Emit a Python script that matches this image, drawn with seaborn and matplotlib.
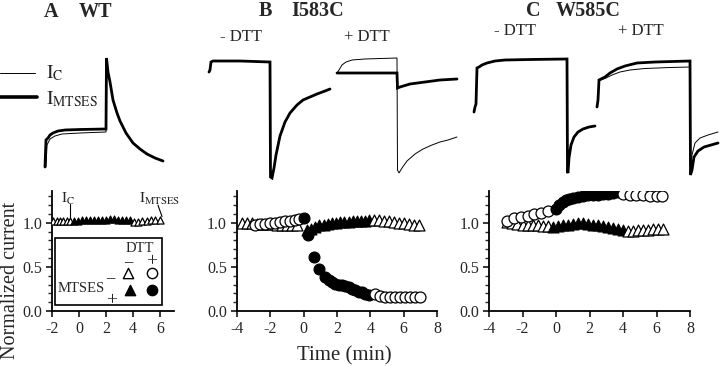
import matplotlib
matplotlib.use("Agg")
import matplotlib.pyplot as plt
import seaborn as sns
from matplotlib.patches import Rectangle

# ---------------- current traces (arbitrary units: time, current) ----------------
a_mtses_t = [45, 46, 48, 50, 53, 58, 65, 80, 106, 106.5, 108, 110, 113, 117, 120, 126, 133, 140, 147, 155, 163]
a_mtses_i = [13, 40, 42, 45, 47, 49, 50, 50.5, 51, 122, 108, 98, 80, 67, 59, 47, 37, 31, 26, 22, 19]
a_ctrl_t = [46, 47, 50, 55, 62, 80, 106, 106.5, 108, 110, 113, 117, 120, 126, 133, 140, 147, 155, 163]
a_ctrl_i = [13, 35, 41, 44, 46, 47, 48, 122, 108, 98, 80, 67, 59, 47, 37, 31, 26, 22, 19]

b_minus_t = [14, 15, 16, 18, 45, 75, 75.5, 77, 79, 81, 85, 90, 95, 102, 108, 115, 122, 130, 135]
b_minus_i = [108, 110, 118, 119, 119, 118, 3, 2, 12, 25, 44, 58, 67, 75, 80, 83, 86, 89, 91]
b_plus_ctrl_t = [142, 144, 147, 151, 157, 170, 202, 202.5, 204, 207, 212, 220, 228, 237, 245, 253, 262]
b_plus_ctrl_i = [107, 110, 115, 118, 120, 121, 122, 10, 7, 12, 19, 26, 31, 35, 38, 40, 43]
b_plus_mtses_t = [142, 202, 202.5, 205, 215, 230, 245, 262]
b_plus_mtses_i = [107, 107, 92, 93, 96, 98, 100, 101]

c_minus_t = [9, 10, 11, 12, 14, 17, 22, 30, 40, 65, 102, 102.5, 103, 104, 106, 109, 113, 118, 124, 130]
c_minus_i = [68, 73, 76, 112, 113, 115, 117, 119, 120, 120.5, 121, 8, 7, 22, 35, 43, 48, 51, 53, 54]
c_plus_mtses_t = [132, 133, 134, 136, 140, 145, 152, 160, 172, 190, 225, 225.5, 227, 229, 233, 239, 246, 253]
c_plus_mtses_i = [73, 80, 100, 101, 103, 107, 111, 114, 117, 118, 119, 5, 10, 23, 29, 33, 35, 37]
c_plus_ctrl_t = [134, 136, 141, 147, 155, 165, 180, 205, 225, 225.5, 227, 230, 235, 243, 253]
c_plus_ctrl_i = [100, 100, 102, 105, 108, 110, 111.5, 112.5, 113, 10, 25, 37, 42, 45, 48]

# ---------------- normalized current vs time (min) ----------------
# panel A, WT
a_tri_open1_x = [-1.9, -1.65, -1.4, -1.15, -0.9, -0.65]
a_tri_open1_y = [1.02, 1.02, 1.02, 1.02, 1.02, 1.02]
a_tri_fill_x = [-0.4, -0.1, 0.2, 0.5, 0.8, 1.1, 1.4, 1.7, 2.0, 2.3, 2.6, 2.9, 3.2, 3.5, 3.8]
a_tri_fill_y = [1.02, 1.02, 1.03, 1.03, 1.03, 1.03, 1.03, 1.03, 1.03, 1.04, 1.04, 1.03, 1.03, 1.03, 1.03]
a_tri_open2_x = [4.1, 4.4, 4.7, 5.0, 5.3, 5.6, 6.0]
a_tri_open2_y = [1.01, 1.01, 1.02, 1.02, 1.03, 1.03, 1.03]

# panel B, I583C
b_tri_open1_x = [-3.7, -3.4, -3.1, -2.8, -2.5, -2.2, -1.9, -1.6, -1.3, -1.0, -0.7, -0.4]
b_tri_open1_y = [1.0, 1.0, 1.0, 0.99, 0.99, 0.99, 0.99, 0.98, 0.98, 0.98, 0.97, 0.97]
b_tri_fill_x = [0.2, 0.45, 0.7, 0.95, 1.2, 1.45, 1.7, 1.95, 2.2, 2.45, 2.7, 2.95, 3.2, 3.45, 3.7, 3.95]
b_tri_fill_y = [0.92, 0.93, 0.95, 0.97, 0.98, 0.99, 1.0, 1.0, 1.01, 1.01, 1.01, 1.02, 1.02, 1.02, 1.02, 1.03]
b_tri_open2_x = [4.2, 4.5, 4.8, 5.1, 5.4, 5.7, 6.0, 6.3, 6.6, 6.9]
b_tri_open2_y = [1.03, 1.03, 1.02, 1.02, 1.01, 1.0, 1.0, 0.99, 0.98, 0.97]
b_cir_open1_x = [-2.9, -2.6, -2.3, -2.0, -1.7, -1.4, -1.1, -0.8, -0.5, -0.25]
b_cir_open1_y = [0.98, 0.99, 0.99, 1.0, 1.0, 1.01, 1.02, 1.02, 1.03, 1.04]
b_cir_fill_x = [0.0, 0.25, 0.65, 0.95, 1.3, 1.5, 1.7, 1.9, 2.1, 2.3, 2.5, 2.7, 2.9, 3.1, 3.3, 3.5, 3.7, 3.9]
b_cir_fill_y = [1.05, 0.86, 0.61, 0.48, 0.38, 0.35, 0.33, 0.31, 0.30, 0.29, 0.28, 0.27, 0.25, 0.24, 0.22, 0.21, 0.19, 0.18]
b_cir_open2_x = [4.3, 4.6, 4.9, 5.2, 5.5, 5.8, 6.1, 6.4, 6.7, 7.0]
b_cir_open2_y = [0.19, 0.17, 0.16, 0.16, 0.16, 0.16, 0.16, 0.16, 0.16, 0.16]

# panel C, W585C
c_tri_open1_x = [-2.9, -2.6, -2.3, -2.0, -1.7, -1.4, -1.1, -0.8, -0.5]
c_tri_open1_y = [1.01, 1.0, 0.99, 0.98, 0.98, 0.97, 0.97, 0.96, 0.96]
c_tri_fill_x = [-0.2, 0.1, 0.4, 0.7, 1.0, 1.3, 1.6, 1.9, 2.2, 2.5, 2.8, 3.1, 3.4, 3.7, 4.0]
c_tri_fill_y = [0.95, 0.96, 0.97, 0.98, 0.99, 1.0, 1.0, 0.99, 0.98, 0.97, 0.96, 0.95, 0.94, 0.93, 0.92]
c_tri_open2_x = [4.3, 4.6, 4.9, 5.2, 5.5, 5.8, 6.1, 6.4]
c_tri_open2_y = [0.91, 0.91, 0.92, 0.92, 0.92, 0.93, 0.93, 0.93]
c_cir_open1_x = [-2.9, -2.5, -2.1, -1.7, -1.3, -0.9, -0.5]
c_cir_open1_y = [1.02, 1.05, 1.07, 1.08, 1.10, 1.11, 1.13]
c_cir_fill_x = [0.0, 0.2, 0.4, 0.6, 0.8, 1.0, 1.3, 1.6, 1.9, 2.2, 2.5, 2.8, 3.1, 3.4, 3.7]
c_cir_fill_y = [1.16, 1.20, 1.24, 1.26, 1.27, 1.28, 1.29, 1.30, 1.31, 1.32, 1.32, 1.33, 1.33, 1.34, 1.35]
c_cir_open2_x = [4.0, 4.4, 4.8, 5.2, 5.6, 6.0, 6.3]
c_cir_open2_y = [1.33, 1.32, 1.31, 1.31, 1.30, 1.30, 1.30]

yticks = [0.0, 0.5, 1.0]
ytick_labels = ["0.0", "0.5", "1.0"]

sns.set_style("ticks")
plt.rcParams["font.family"] = ["Liberation Serif", "DejaVu Serif"]
plt.rcParams["mathtext.fontset"] = "stix"

W, H = 720, 366
fig = plt.figure(figsize=(7.2, 3.66), dpi=100)


def px_axes(x0, y0, x1, y1):
    # rectangle given in pixel coords (top-left origin)
    return fig.add_axes([x0 / W, 1 - y1 / H, (x1 - x0) / W, (y1 - y0) / H])


def trace(ax, t, i, lw):
    sns.lineplot(x=t, y=i, ax=ax, sort=False, estimator=None, color="black",
                 linewidth=lw, solid_joinstyle="miter")


THICK, THIN = 2.0, 0.7

# ----- top traces ------------------------------------------------------------
ta = px_axes(0, 50, 180, 180)
tb = px_axes(195, 50, 465, 180)
tc = px_axes(465, 50, 720, 180)
for ax, w in ((ta, 180), (tb, 270), (tc, 255)):
    ax.set_xlim(0, w)
    ax.set_ylim(0, 130)
    ax.axis("off")

trace(ta, a_ctrl_t, a_ctrl_i, THIN)
trace(ta, a_mtses_t, a_mtses_i, THICK)
ta.plot([0, 35], [107, 107], color="black", lw=THIN)
ta.plot([0, 37], [83, 83], color="black", lw=THICK * 1.3)
ta.text(46, 107, r"$\mathrm{I}_{\mathrm{C}}$", fontsize=14, va="center")
ta.text(46, 81, r"$\mathrm{I}_{\mathrm{MTSES}}$", fontsize=14, va="center")

trace(tb, b_minus_t, b_minus_i, THICK)
trace(tb, b_plus_ctrl_t, b_plus_ctrl_i, THIN)
trace(tb, b_plus_mtses_t, b_plus_mtses_i, THICK)

trace(tc, c_minus_t, c_minus_i, THICK)
trace(tc, c_plus_ctrl_t, c_plus_ctrl_i, THIN)
trace(tc, c_plus_mtses_t, c_plus_mtses_i, THICK)

# ----- bottom: normalized current -------------------------------------------
axA = px_axes(52, 191, 173.5, 311)
axB = px_axes(236.7, 191, 437.1, 311)
axC = px_axes(489, 191, 690, 311)


def scat(ax, x, y, marker, filled, s):
    if filled:
        sns.scatterplot(x=x, y=y, ax=ax, marker=marker, s=s, color="black",
                        edgecolor="black", linewidth=0.8, zorder=3)
    else:
        sns.scatterplot(x=x, y=y, ax=ax, marker=marker, s=s, color="white",
                        edgecolor="black", linewidth=0.9, zorder=3)


SA, SB = 26, 62
scat(axA, a_tri_open1_x, a_tri_open1_y, "^", False, SA)
scat(axA, a_tri_fill_x, a_tri_fill_y, "^", True, SA)
scat(axA, a_tri_open2_x, a_tri_open2_y, "^", False, SA)

scat(axB, b_tri_open1_x, b_tri_open1_y, "^", False, SB)
scat(axB, b_tri_fill_x, b_tri_fill_y, "^", True, SB)
scat(axB, b_tri_open2_x, b_tri_open2_y, "^", False, SB)
scat(axB, b_cir_open1_x, b_cir_open1_y, "o", False, SB)
scat(axB, b_cir_fill_x, b_cir_fill_y, "o", True, SB)
scat(axB, b_cir_open2_x, b_cir_open2_y, "o", False, SB)

scat(axC, c_tri_open1_x, c_tri_open1_y, "^", False, SB)
scat(axC, c_tri_fill_x, c_tri_fill_y, "^", True, SB)
scat(axC, c_tri_open2_x, c_tri_open2_y, "^", False, SB)
scat(axC, c_cir_open1_x, c_cir_open1_y, "o", False, SB)
scat(axC, c_cir_fill_x, c_cir_fill_y, "o", True, SB)
scat(axC, c_cir_open2_x, c_cir_open2_y, "o", False, SB)

for ax, xl, xt in ((axA, (-2, 7), [-2, 0, 2, 4, 6]),
                   (axB, (-4, 8), [-4, -2, 0, 2, 4, 6, 8]),
                   (axC, (-4, 8), [-4, -2, 0, 2, 4, 6, 8])):
    ax.set_xlim(*xl)
    ax.set_ylim(0, 1.36)
    ax.set_xticks(xt)
    ax.set_xticklabels([str(v) for v in xt])
    ax.set_yticks(yticks)
    ax.set_yticklabels(ytick_labels)
    ax.set_yticks([0.1, 0.2, 0.3, 0.4, 0.6, 0.7, 0.8, 0.9, 1.1, 1.2, 1.3], minor=True)
    ax.tick_params(axis="both", which="major", direction="out", length=4, width=1.1,
                   labelsize=11.5, pad=3, color="black")
    ax.tick_params(axis="y", which="minor", direction="out", length=3, width=1.0)
    for side in ("top", "right"):
        ax.spines[side].set_visible(False)
    for side in ("left", "bottom"):
        ax.spines[side].set_linewidth(1.3)
        ax.spines[side].set_color("black")
    ax.set_xlabel("")
    ax.set_ylabel("")
    ax.patch.set_alpha(0)

# WT annotations: I_C and I_MTSES pointers
axA.text(-0.8, 1.27, r"$\mathrm{I}_{\mathrm{C}}$", fontsize=11, ha="center", va="center")
axA.plot([-0.67, -0.67], [1.06, 1.21], color="black", lw=0.8)
axA.text(6.0, 1.27, r"$\mathrm{I}_{\mathrm{MTSES}}$", fontsize=11, ha="center", va="center")
axA.plot([5.85, 6.15], [1.20, 1.07], color="black", lw=0.8)

# symbol key inside panel A
T = axA.transAxes
axA.add_patch(Rectangle((0.025, 0.05), 0.88, 0.558, transform=T, fill=False,
                        edgecolor="black", lw=1.2, zorder=4))
axA.text(0.724, 0.525, "DTT", transform=T, fontsize=10.5, ha="center", va="center")
axA.text(0.626, 0.41, "–", transform=T, fontsize=12, ha="center", va="center", fontweight="bold")
axA.text(0.823, 0.41, "+", transform=T, fontsize=14, ha="center", va="center")
axA.scatter([0.626], [0.317], transform=T, marker="^", s=55, facecolor="white", edgecolor="black", lw=1.0, zorder=5)
axA.scatter([0.823], [0.317], transform=T, marker="o", s=55, facecolor="white", edgecolor="black", lw=1.0, zorder=5)
axA.scatter([0.642], [0.175], transform=T, marker="^", s=55, color="black", zorder=5)
axA.scatter([0.823], [0.175], transform=T, marker="o", s=55, color="black", zorder=5)
axA.text(0.049, 0.19, "MTSES", transform=T, fontsize=10.5, ha="left", va="center")
axA.text(0.477, 0.275, "–", transform=T, fontsize=12, ha="center", va="center", fontweight="bold")
axA.text(0.494, 0.085, "+", transform=T, fontsize=14, ha="center", va="center")

# ----- titles and labels -----------------------------------------------------
def ftext(x, y, s, **kw):
    fig.text(x / W, 1 - y / H, s, **kw)


ftext(51, 12, "A", fontsize=14.5, fontweight="bold", ha="center", va="center")
ftext(95, 12, "WT", fontsize=14.5, fontweight="bold", ha="center", va="center")
ftext(265, 11, "B", fontsize=14.5, fontweight="bold", ha="center", va="center")
ftext(318, 11, "I583C", fontsize=14.5, fontweight="bold", ha="center", va="center")
ftext(533, 11, "C", fontsize=14.5, fontweight="bold", ha="center", va="center")
ftext(588, 11, "W585C", fontsize=14.5, fontweight="bold", ha="center", va="center")

ftext(241, 37, "- DTT", fontsize=12, ha="center", va="center")
ftext(367, 37, "+ DTT", fontsize=12, ha="center", va="center")
ftext(515, 31, "- DTT", fontsize=12, ha="center", va="center")
ftext(641, 31, "+ DTT", fontsize=12, ha="center", va="center")

ftext(344, 356, "Time (min)", fontsize=15, ha="center", va="center")
ftext(11, 280, "Normalized current", fontsize=14.5, ha="center", va="center", rotation=90)

fig.savefig("out.png", dpi=100)
